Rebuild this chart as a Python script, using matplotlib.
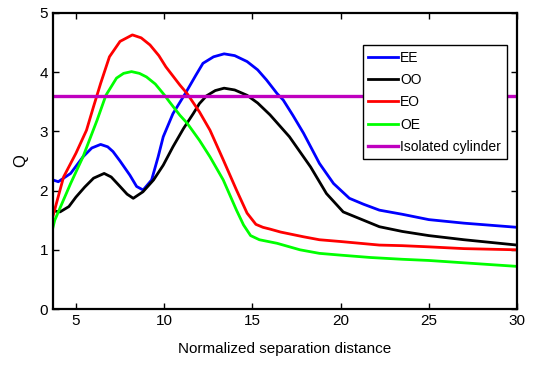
import numpy as np
import matplotlib.pyplot as plt

plt.rcParams['font.family'] = ['Liberation Sans', 'DejaVu Sans']

# values
x_ee = [3.7, 4.0, 4.7, 5.4, 5.9, 6.4, 6.8, 7.1, 7.5, 8.06, 8.44, 8.81, 9.29, 9.66, 9.95, 10.5, 11.2, 11.8, 12.2, 12.8,
        13.4, 14.0, 14.7, 15.3, 15.8, 16.4, 16.75, 17.3, 17.9, 18.8, 19.6, 20.5, 21.3, 22.2, 23.5, 25.0, 27.0, 30.0]
q_ee = [2.18, 2.15, 2.29, 2.57, 2.72, 2.78, 2.74, 2.66, 2.50, 2.26, 2.07, 2.01, 2.18, 2.57, 2.91, 3.30, 3.64, 3.95, 4.15, 4.26,
        4.31, 4.28, 4.18, 4.04, 3.87, 3.64, 3.53, 3.27, 2.97, 2.46, 2.12, 1.87, 1.77, 1.67, 1.60, 1.51, 1.45, 1.38]

x_oo = [3.7, 4.1, 4.6, 5.0, 5.5, 6.0, 6.6, 7.0, 7.5, 7.9, 8.25, 8.8, 9.4, 9.95, 10.5, 11.1, 11.65, 12.0, 12.4,
        12.9, 13.4, 14.0, 14.7, 15.3, 16.0, 17.1, 18.3, 19.2, 20.15, 21.3, 22.2, 23.5, 25.0, 27.0, 30.0]
q_oo = [1.66, 1.64, 1.73, 1.89, 2.06, 2.21, 2.29, 2.23, 2.07, 1.94, 1.87, 1.98, 2.18, 2.43, 2.74, 3.05, 3.30, 3.47, 3.60,
        3.69, 3.73, 3.70, 3.61, 3.48, 3.28, 2.91, 2.40, 1.95, 1.64, 1.50, 1.39, 1.31, 1.24, 1.17, 1.08]

x_eo = [3.7, 4.3, 5.0, 5.6, 6.0, 6.4, 6.9, 7.5, 8.2, 8.7, 9.2, 9.7, 10.1, 10.9, 11.3, 12.0, 12.6, 13.35, 14.1,
        14.7, 15.2, 15.6, 16.0, 16.6, 17.9, 18.8, 20.0, 22.2, 23.5, 25.0, 27.0, 30.0]
q_eo = [1.57, 2.23, 2.63, 3.02, 3.42, 3.81, 4.26, 4.52, 4.63, 4.58, 4.46, 4.28, 4.09, 3.78, 3.64, 3.33, 3.02, 2.52, 2.01,
        1.62, 1.43, 1.38, 1.35, 1.30, 1.22, 1.17, 1.14, 1.08, 1.07, 1.05, 1.02, 1.00]

x_oe = [3.7, 3.8, 4.7, 5.4, 6.2, 6.7, 7.3, 7.7, 8.15, 8.6, 9.0, 9.5, 10.0, 10.3, 10.9, 11.3, 12.0, 12.6, 13.35, 14.1,
        14.5, 14.9, 15.4, 16.4, 17.7, 18.8, 20.0, 21.7, 23.5, 25.0, 27.0, 30.0]
q_oe = [1.38, 1.50, 2.12, 2.57, 3.19, 3.61, 3.90, 3.98, 4.01, 3.98, 3.92, 3.80, 3.62, 3.50, 3.27, 3.14, 2.85, 2.57, 2.18, 1.67,
        1.42, 1.24, 1.17, 1.11, 1.00, 0.94, 0.91, 0.87, 0.84, 0.82, 0.78, 0.72]

x_iso = [3.7, 30.0]
q_iso = [3.6, 3.6]

fig = plt.figure(figsize=(5.33, 3.67), dpi=100)
ax = fig.add_axes([0.0994, 0.158, 0.8706, 0.8066])

ax.plot(x_ee, q_ee, color='#0000ff', lw=2, label='EE')
ax.plot(x_oo, q_oo, color='black', lw=2, label='OO')
ax.plot(x_eo, q_eo, color='#ff0000', lw=2, label='EO')
ax.plot(x_oe, q_oe, color='#00ff00', lw=2, label='OE')
ax.plot(x_iso, q_iso, color='#bf00bf', lw=2.4, label='Isolated cylinder')

ax.set_xlim(3.7, 30)
ax.set_ylim(0, 5)
ax.set_xticks([5, 10, 15, 20, 25, 30])
ax.set_yticks([0, 1, 2, 3, 4, 5])
ax.tick_params(direction='in', top=True, right=True, labelsize=11, length=4, width=1)
for s in ax.spines.values():
    s.set_linewidth(1.6)

ax.set_xlabel('Normalized separation distance', fontsize=11, labelpad=10)
ax.set_ylabel('Q', fontsize=12, labelpad=8)

leg = ax.legend(loc='upper right', bbox_to_anchor=(0.978, 0.892), fontsize=10,
                fancybox=False, framealpha=1, edgecolor='black',
                handlelength=2.1, handletextpad=0.2, labelspacing=0.6, borderaxespad=0,
                borderpad=0.4)
leg.get_frame().set_linewidth(1)

fig.savefig('out.png', dpi=100)
